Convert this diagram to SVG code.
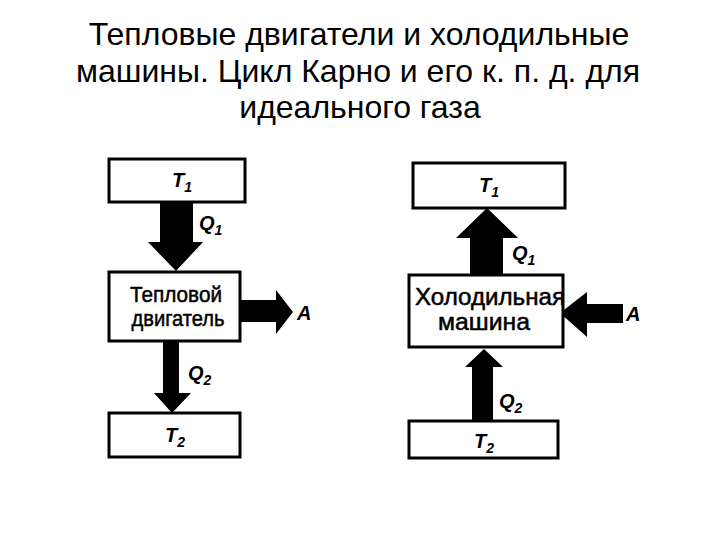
<svg xmlns="http://www.w3.org/2000/svg" width="720" height="540" viewBox="0 0 720 540">
<style>
.title{font-family:"Liberation Sans",Arial,sans-serif;font-size:32px;fill:#000;text-anchor:middle}
.box{fill:#fff;stroke:#000;stroke-width:3}
.txt{font-family:"Liberation Sans",Arial,sans-serif;font-size:23px;fill:#000;stroke:#000;stroke-width:0.5;text-anchor:middle}
.txs{font-size:22px}
.lbl{font-family:"Liberation Sans",Arial,sans-serif;font-size:20px;font-style:italic;font-weight:bold;fill:#000}
.sub{font-size:14px}
.arr{fill:#000}
</style>
<rect width="720" height="540" fill="#fff"/>
<g id="title">
<text class="title" x="359" y="45">Тепловые двигатели и холодильные</text>
<text class="title" x="358" y="82">машины. Цикл Карно и его к. п. д. для</text>
<text class="title" x="360" y="118">идеального газа</text>
</g>
<g id="connectors">
<polygon class="arr" points="160,202 193,202 193,242 203,242 176,271 148,242 160,242"/>
<polygon class="arr" points="240,300 276,300 276,290 293,312 276,334 276,322 240,322"/>
<polygon class="arr" points="163,341 179,341 179,393 191,393 172,413 154,393 163,393"/>
<polygon class="arr" points="470,275 503,275 503,238 518,238 487,208 456,238 470,238"/>
<polygon class="arr" points="623,304 623,323 587,323 587,337 560,313 587,292 587,304"/>
<polygon class="arr" points="472,421 493,421 493,367 503,367 484,349 465,367 472,367"/>
</g>
<g id="hot1"><rect class="box" x="109" y="159" width="136" height="43"/>
<text class="lbl" x="172" y="187">T<tspan class="sub" dy="5">1</tspan></text></g>
<g id="engine"><rect class="box" x="109" y="272" width="131" height="69"/>
<text class="txt txs" x="176" y="302" textLength="92" lengthAdjust="spacingAndGlyphs">Тепловой</text>
<text class="txt txs" x="178" y="326" textLength="93" lengthAdjust="spacingAndGlyphs">двигатель</text></g>
<g id="cold1"><rect class="box" x="109" y="413" width="131" height="44"/>
<text class="lbl" x="165" y="442">T<tspan class="sub" dy="5">2</tspan></text></g>
<g id="hot2"><rect class="box" x="413" y="163" width="152" height="45"/>
<text class="lbl" x="479" y="192">T<tspan class="sub" dy="5">1</tspan></text></g>
<g id="fridge"><rect class="box" x="409" y="275" width="154" height="72"/>
<text class="txt" x="490" y="305" textLength="150" lengthAdjust="spacingAndGlyphs">Холодильная</text>
<text class="txt" x="484" y="330" textLength="92" lengthAdjust="spacingAndGlyphs">машина</text></g>
<g id="cold2"><rect class="box" x="409" y="421" width="149" height="37"/>
<text class="lbl" x="474" y="448">T<tspan class="sub" dy="5">2</tspan></text></g>
<g id="labels">
<text class="lbl" x="199" y="230">Q<tspan class="sub" dy="5">1</tspan></text>
<text class="lbl" x="297" y="320">A</text>
<text class="lbl" x="188" y="380">Q<tspan class="sub" dy="5">2</tspan></text>
<text class="lbl" x="512" y="260">Q<tspan class="sub" dy="5">1</tspan></text>
<text class="lbl" x="626" y="321">A</text>
<text class="lbl" x="499" y="408">Q<tspan class="sub" dy="5">2</tspan></text>
</g>
</svg>
